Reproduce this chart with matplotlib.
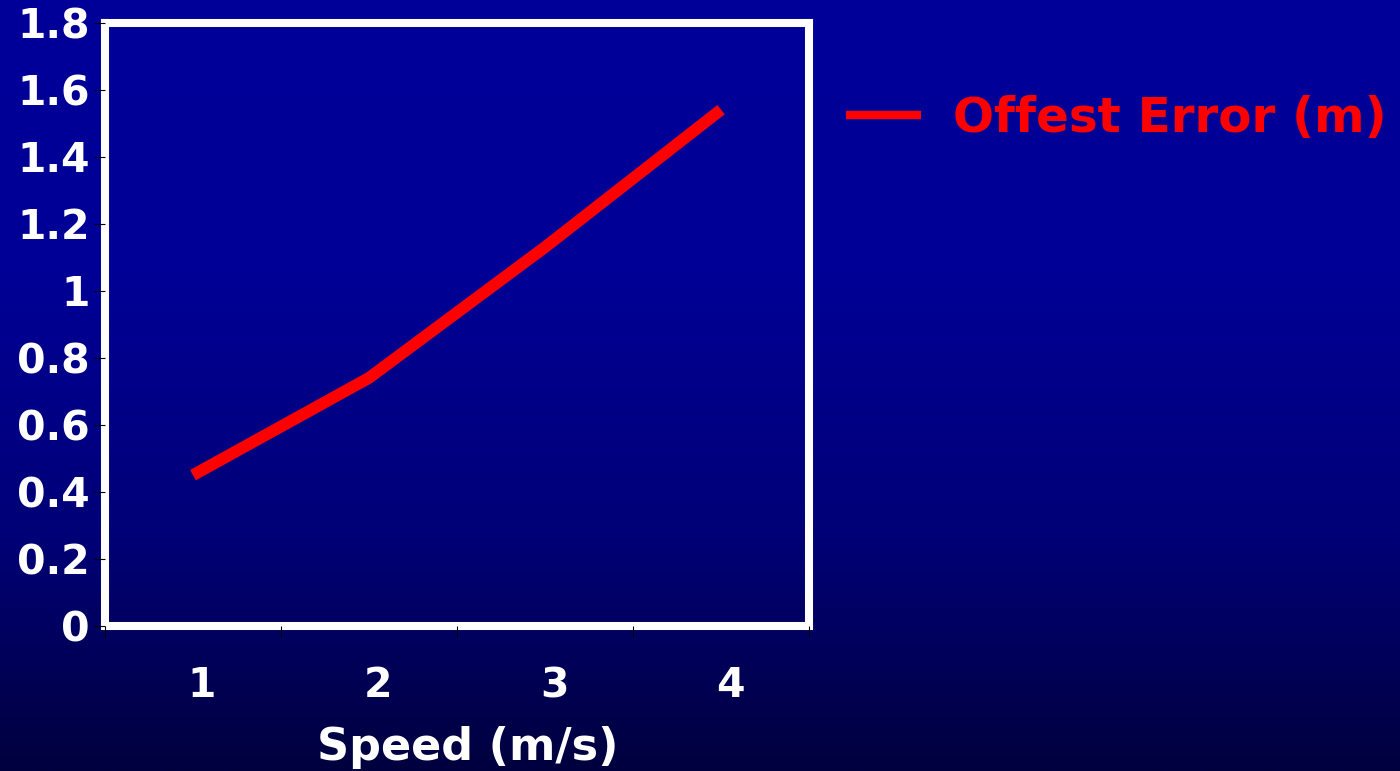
import numpy as np
from matplotlib import pyplot as plt
from matplotlib.transforms import ScaledTranslation

# chart data
speeds = [1, 2, 3, 4]
offset_error = [0.45, 0.74, 1.13, 1.54]
y_ticks = [0, 0.2, 0.4, 0.6, 0.8, 1.0, 1.2, 1.4, 1.6, 1.8]
y_tick_labels = ["0", "0.2", "0.4", "0.6", "0.8", "1", "1.2", "1.4", "1.6", "1.8"]
series_label = "Offest Error (m)"
x_label = "Speed (m/s)"

plt.rcParams["font.family"] = ["DejaVu Sans"]
plt.rcParams["font.weight"] = "bold"

fig = plt.figure(figsize=(14, 7.71), dpi=100)

# background: flat blue at the top, fading to dark navy at the bottom
bg = fig.add_axes([0, 0, 1, 1], zorder=-10)
rows = np.linspace(0, 1, 400)
blue = np.interp(rows, [0, 0.35, 0.7, 1.0], [153, 150, 118, 62]) / 255.0
grad = np.zeros((len(rows), 1, 3))
grad[:, 0, 2] = blue
bg.imshow(grad, aspect="auto", extent=[0, 1, 0, 1], interpolation="bilinear")
bg.axis("off")

ax = fig.add_axes([0.075, 0.1881, 0.5029, 0.7827])
ax.set_facecolor("none")

ax.plot(speeds, offset_error, color="#ff0000", linewidth=8.5,
        solid_capstyle="butt", solid_joinstyle="miter", label=series_label)

ax.set_xlim(0.5, 4.5)
ax.set_ylim(0, 1.8)

for side in ["left", "right", "top", "bottom"]:
    ax.spines[side].set_color("white")
    ax.spines[side].set_linewidth(5.8)

ax.set_yticks(y_ticks)
ax.set_yticklabels(y_tick_labels)
ax.set_xticks(speeds)
ax.set_xticks([0.5, 1.5, 2.5, 3.5, 4.5], minor=True)

ax.tick_params(axis="y", which="major", colors="black", labelcolor="white",
               labelsize=29.5, length=8, width=0.8, pad=3, direction="out")
ax.tick_params(axis="x", which="major", length=0, labelcolor="white",
               labelsize=29.5, pad=29)
ax.tick_params(axis="x", which="minor", colors="black", length=8, width=0.8,
               direction="out")
ax.xaxis.set_zorder(3)
ax.yaxis.set_zorder(3)

shift = ScaledTranslation(9 / 100, 0, fig.dpi_scale_trans)
for lbl in ax.get_xticklabels():
    lbl.set_transform(lbl.get_transform() + shift)
    lbl.set_fontweight("bold")
for lbl in ax.get_yticklabels():
    lbl.set_fontweight("bold")

ax.set_xlabel(x_label, fontsize=32, fontweight="bold", color="white")
ax.xaxis.set_label_coords(0.515, -0.165)

leg = ax.legend(loc="center left", bbox_to_anchor=(846 / 1400, 1 - 118 / 771),
                bbox_transform=fig.transFigure, frameon=False,
                prop={"size": 34.8, "weight": "bold"},
                handlelength=1.55, handletextpad=0.66,
                borderpad=0, borderaxespad=0)
for txt in leg.get_texts():
    txt.set_color("#ff0000")
leg.get_lines()[0].set_linewidth(6)

fig.savefig("out.png", dpi=100)
